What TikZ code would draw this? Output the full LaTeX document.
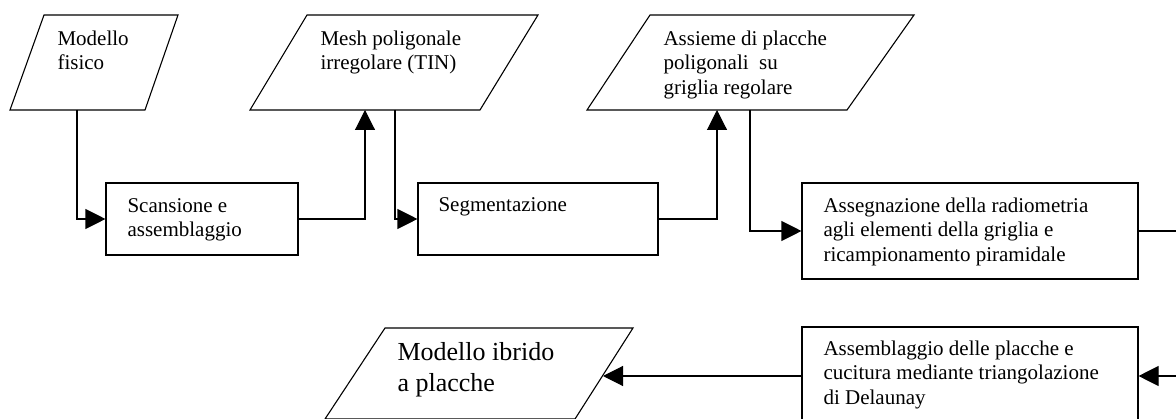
\documentclass[tikz,border=0pt]{standalone}
\usepackage{fontspec}
\setmainfont{Liberation Serif}
\usetikzlibrary{arrows.meta}
\begin{document}
\begin{tikzpicture}[x=1pt,y=-1pt,line width=1.1pt,
  arr/.style={-{Triangle[length=20pt,width=20pt]}},
  boxnode/.style={draw,rectangle,inner sep=0pt},
  txt/.style={anchor=north west,inner sep=0pt,align=left,font=\fontsize{21pt}{24.5pt}\selectfont},
  bigtxt/.style={anchor=north west,inner sep=0pt,align=left,font=\fontsize{26pt}{31pt}\selectfont}]
\useasboundingbox (0,0) rectangle (1176,419);
\fill[white] (0,0) rectangle (1176,419);
\begin{scope}
\clip (0,0) rectangle (1176,419);
% parallelograms
\draw (44,15) -- (178,15) -- (145,110) -- (10,110) -- cycle;
\draw (307,15) -- (538,15) -- (480,110) -- (250,110) -- cycle;
\draw (650,15) -- (914,15) -- (847,110) -- (587,110) -- cycle;
\draw (385,328) -- (633,328) -- (575,419) -- (325,419) -- cycle;
\coordinate (p1b) at (77,110);
\coordinate (p2in) at (365,110);
\coordinate (p2b) at (395,110);
\coordinate (p3in) at (717,110);
\coordinate (p3b) at (750,110);
\coordinate (p4in) at (603,376);
\coordinate (r1) at (1180,231);
\coordinate (r2) at (1180,376);
% text in parallelograms
\node[txt] (t1) at (57,30) {Modello\\fisico};
\node[txt] (t2) at (320,30) {Mesh poligonale\\irregolare (TIN)};
\node[txt] (t3) at (663,30) {Assieme di placche\\poligonali\ \ su\\griglia regolare};
\node[bigtxt] (t4) at (397,342) {Modello ibrido\\a placche};
% boxes
\node[boxnode,minimum width=192pt,minimum height=72pt] (b1) at (202,219) {};
\node[boxnode,minimum width=240pt,minimum height=72pt] (b2) at (538,219) {};
\node[boxnode,minimum width=336pt,minimum height=96pt] (b3) at (970,231) {};
\node[boxnode,minimum width=336pt,minimum height=98pt] (b4) at (970,376) {};
\node[txt] (s1) at (127,198) {Scansione e\\assemblaggio};
\node[txt] (s2) at (438,197) {Segmentazione};
\node[txt] (s3) at (823,197) {Assegnazione della radiometria\\agli elementi della griglia e\\ricampionamento piramidale};
\node[txt] (s4) at (823,340) {Assemblaggio delle placche e\\cucitura mediante triangolazione\\di Delaunay};
% connectors
\draw[arr] (p1b) |- (b1.west);
\draw[arr] (b1.east) -| (p2in);
\draw[arr] (p2b) |- (b2.west);
\draw[arr] (b2.east) -| (p3in);
\draw[arr] (p3b) |- (b3.west);
\draw (b3.east) -- (r1);
\draw[arr] (r2) -- (b4.east);
\draw[arr] (b4.west) -- (p4in);
\end{scope}
\end{tikzpicture}
\end{document}
